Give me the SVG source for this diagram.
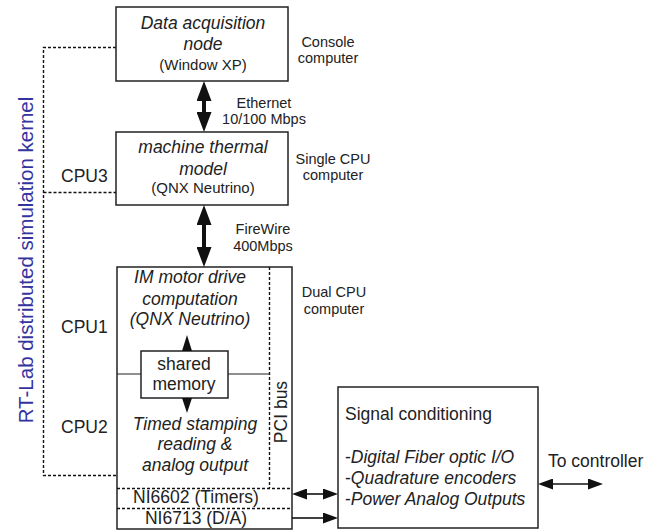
<svg xmlns="http://www.w3.org/2000/svg" width="662" height="531" viewBox="0 0 662 531">
  <style>
    .box { fill: #fff; stroke: #222; stroke-width: 1.5; }
    .dash { fill: none; stroke: #111; stroke-width: 1.4; stroke-dasharray: 3 2; }
    .solid { fill: none; stroke: #222; stroke-width: 1.2; }
    .t { font-family: "Liberation Sans", Arial, sans-serif; fill: #222; }
    .big { font-size: 17.5px; }
    .mid { font-size: 15px; }
    .small { font-size: 14.5px; }
    .it { font-style: italic; }
    .c { text-anchor: middle; }
    .thick { stroke: #111; stroke-width: 4; fill: none; }
    .thin { stroke: #111; stroke-width: 1.6; fill: none; }
    .head { fill: #111; }
  </style>
  <defs>
    <marker id="bigHead" viewBox="0 0 20 15" refX="0" refY="7.5" markerUnits="userSpaceOnUse" markerWidth="20" markerHeight="15" orient="auto-start-reverse">
      <path d="M0,0 L20,7.5 L0,15 Z" fill="#111"/>
    </marker>
    <marker id="smallHead" viewBox="0 0 15 11" refX="0" refY="5.5" markerUnits="userSpaceOnUse" markerWidth="15" markerHeight="11" orient="auto-start-reverse">
      <path d="M0,0 L15,5.5 L0,11 Z" fill="#111"/>
    </marker>
  </defs>

  <!-- kernel label and dashed grouping line -->
  <g id="kernel">
    <text class="t" transform="translate(33,260) rotate(-90)" text-anchor="middle" font-size="20.5" style="fill:#3434a0">RT-Lab distributed simulation kernel</text>
    <path class="dash" d="M116,47.5 H43.5 V475.5 H117"/>
    <path class="dash" d="M43.5,192.5 H116"/>
    <text class="t big" x="61" y="182">CPU3</text>
    <text class="t big" x="61" y="333">CPU1</text>
    <text class="t big" x="61" y="433">CPU2</text>
  </g>

  <!-- console computer -->
  <g id="data-acquisition">
    <rect class="box" x="116" y="7" width="172" height="74"/>
    <text class="t big it c" x="203" y="29">Data acquisition</text>
    <text class="t big it c" x="203" y="50">node</text>
    <text class="t mid c" x="203" y="70">(Window XP)</text>
    <text class="t small c" x="328" y="47">Console</text>
    <text class="t small c" x="328" y="63">computer</text>
  </g>

  <!-- single CPU computer -->
  <g id="thermal-model">
    <rect class="box" x="116" y="132" width="172" height="73"/>
    <text class="t big it c" x="203" y="153">machine thermal</text>
    <text class="t big it c" x="203" y="175">model</text>
    <text class="t mid c" x="203" y="193">(QNX Neutrino)</text>
    <text class="t small c" x="333" y="164">Single CPU</text>
    <text class="t small c" x="333" y="180">computer</text>
  </g>

  <!-- dual CPU computer -->
  <g id="motor-drive">
    <rect class="box" x="117" y="267" width="175" height="262"/>
    <path class="dash" d="M269.5,267 V488"/>
    <path class="dash" d="M117,488.5 H292 M117,508.5 H292"/>
    <path class="solid" d="M117,374 H141 M228,374 H269"/>
    <text class="t big it c" x="190" y="283">IM motor drive</text>
    <text class="t big it c" x="190" y="305">computation</text>
    <text class="t big it c" x="190" y="325">(QNX Neutrino)</text>
    <text class="t big it c" x="195" y="430">Timed stamping</text>
    <text class="t big it c" x="195" y="450">reading &amp;</text>
    <text class="t big it c" x="195" y="471">analog output</text>
    <text class="t big c" transform="translate(287,412) rotate(-90)">PCI bus</text>
    <text class="t big c" x="196" y="503">NI6602 (Timers)</text>
    <text class="t big c" x="196" y="524">NI6713 (D/A)</text>
    <text class="t small c" x="334" y="297">Dual CPU</text>
    <text class="t small c" x="334" y="314">computer</text>
  </g>

  <g id="shared-memory">
    <rect class="box" x="141" y="351" width="87" height="47"/>
    <text class="t big c" x="184" y="370">shared</text>
    <text class="t big c" x="184" y="390">memory</text>
    <polygon class="head" points="187,335 182,351 192,351"/>
    <polygon class="head" points="187,413 182,398 192,398"/>
  </g>

  <!-- signal conditioning unit -->
  <g id="signal-conditioning">
    <rect class="box" x="338" y="387" width="200" height="141"/>
    <text class="t big" x="345" y="420">Signal conditioning</text>
    <text class="t big" x="345" y="463">-<tspan class="it">Digital Fiber optic I/O</tspan></text>
    <text class="t big" x="345" y="484">-<tspan class="it">Quadrature encoders</tspan></text>
    <text class="t big" x="345" y="505">-<tspan class="it">Power Analog Outputs</tspan></text>
    <text class="t big" x="548" y="467">To controller</text>
  </g>

  <!-- links between units -->
  <g id="connectors">
    <line class="thick" x1="204" y1="101" x2="204" y2="112" marker-start="url(#bigHead)" marker-end="url(#bigHead)"/>
    <text class="t small c" x="264" y="108">Ethernet</text>
    <text class="t small c" x="264" y="124">10/100 Mbps</text>
    <line class="thick" x1="204" y1="225" x2="204" y2="247" marker-start="url(#bigHead)" marker-end="url(#bigHead)"/>
    <text class="t small c" x="263" y="234">FireWire</text>
    <text class="t small c" x="263" y="251">400Mbps</text>
    <line class="thin" x1="307" y1="494" x2="323" y2="494" marker-start="url(#smallHead)" marker-end="url(#smallHead)"/>
    <line class="thin" x1="292" y1="518" x2="323" y2="518" marker-end="url(#smallHead)"/>
    <line class="thin" x1="553" y1="484" x2="588" y2="484" marker-start="url(#smallHead)" marker-end="url(#smallHead)"/>
  </g>
</svg>
